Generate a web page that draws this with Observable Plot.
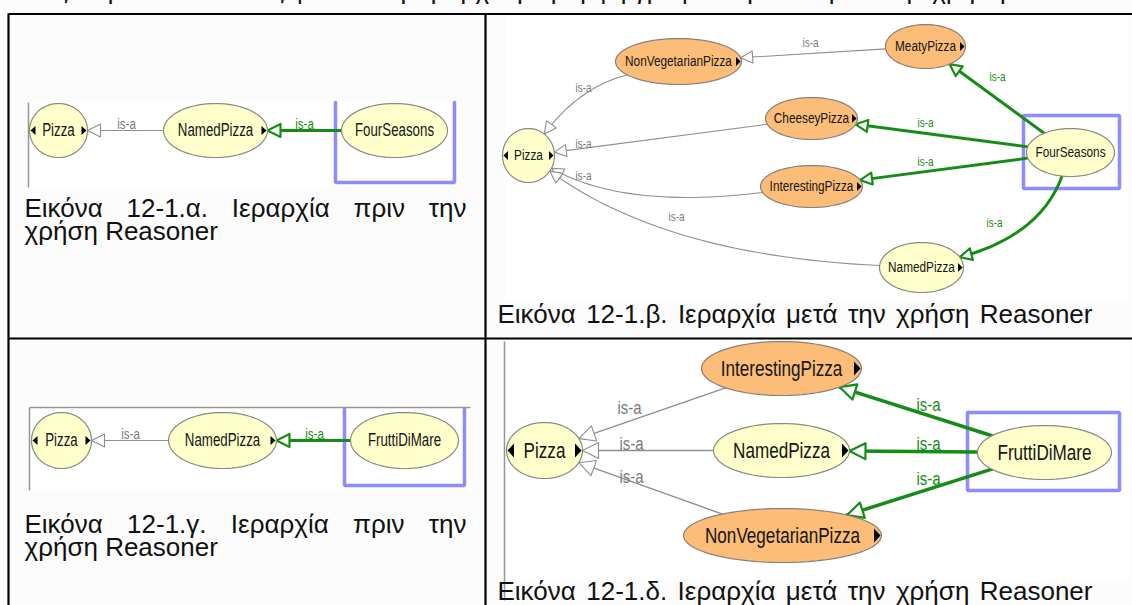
<!DOCTYPE html>
<html><head><meta charset="utf-8">
<script src="https://cdn.jsdelivr.net/npm/d3@7"></script>
<script src="https://cdn.jsdelivr.net/npm/@observablehq/plot@0.6"></script>
<style>
html,body{margin:0;padding:0;background:#fcfcfc;}
#chart svg{display:block;}
</style></head><body><div id="chart"></div>
<script>
const W = 1132, H = 605;

// ---- data ----
// nodes: name, cx, cy, rx, ry, inferred(1 = orange), expand arrows
const nodesA = [["Pizza",58,130,29,27,0,"both"],["NamedPizza",215,130,52,27,0,"right"],["FourSeasons",394,130,53,27,0,"none"]];
const nodesB = [["Pizza",528,155,26,27,0,"both"],["NonVegetarianPizza",678,61,63,23,1,"right"],["MeatyPizza",925,46,40,22,1,"right"],["CheeseyPizza",811,118,46,21,1,"right"],["InterestingPizza",811,186,51,21,1,"right"],["NamedPizza",921,267,42,25,0,"right"],["FourSeasons",1070,152,44,24,0,"none"]];
const nodesC = [["Pizza",61,440,30,28,0,"both"],["NamedPizza",222,440,54,28,0,"right"],["FruttiDiMare",404,440,54,28,0,"none"]];
const nodesD = [["Pizza",544,450,38,28,0,"both"],["InterestingPizza",781,368,80,27,1,"right"],["NamedPizza",781,450,68,27,0,"right"],["NonVegetarianPizza",782,535,99,27,1,"right"],["FruttiDiMare",1044,452,67,27,0,"none"]];
// edges: from, to, green(1 = inferred/selected), label x, label y, [curve control x, y]
const edgesA = [["NamedPizza","Pizza",0,126,124],["FourSeasons","NamedPizza",1,304,124]];
const edgesB = [["MeatyPizza","NonVegetarianPizza",0,810,43],["NonVegetarianPizza","Pizza",0,583,88,578,87],["CheeseyPizza","Pizza",0,583,144],["InterestingPizza","Pizza",0,583,176,624,209],["NamedPizza","Pizza",0,676,217,664,255],["FourSeasons","MeatyPizza",1,997,77],["FourSeasons","CheeseyPizza",1,925,123],["FourSeasons","InterestingPizza",1,925,162],["FourSeasons","NamedPizza",1,994,223,1040,235]];
const edgesC = [["NamedPizza","Pizza",0,130,434],["FruttiDiMare","NamedPizza",1,314,434]];
const edgesD = [["InterestingPizza","Pizza",0,629,408],["NamedPizza","Pizza",0,631,444],["NonVegetarianPizza","Pizza",0,631,477],["FruttiDiMare","InterestingPizza",1,928,405],["FruttiDiMare","NamedPizza",1,928,444],["FruttiDiMare","NonVegetarianPizza",1,928,479]];
// selection boxes: x1, y1, x2, y2, open top?
const boxes = [[335,102,454,182,1],[1023,115,1119,188,0],[344,408,464,485,1],[967,412,1119,490,0]];
// diagram image areas and their thin frame lines
const imageAreas = [[28,102,460,187],[506,15,1128,300],[29,407,470,490],[505,340,1130,580]];
const frameLines = [[28,102,28,187],[29,407,470,407],[29,407,29,490],[504,341,504,600]];
// table rules
const tableRules = [[8,13.5,1132,13.5],[8,13,8,605],[485,13,485,605],[8,338,1132,338]];
// captions: text, x, y, justify-to x
const captions = [
  ["Εικόνα 12-1.α. Ιεραρχία πριν την",24,208,466],
  ["χρήση Reasoner",24,231,null],
  ["Εικόνα 12-1.β. Ιεραρχία μετά την χρήση Reasoner",497,314,1092],
  ["Εικόνα 12-1.γ. Ιεραρχία πριν την",24,524,466],
  ["χρήση Reasoner",24,547,null],
  ["Εικόνα 12-1.δ. Ιεραρχία μετά την χρήση Reasoner",497,591,1092]
];
const topLine = ["Στις παρακάτω εικόνες φαίνεται η ιεραρχία με μορφή γράφου πριν και μετά την χρήση του Reasoner", 24, -10];

// ---- styles ----
const GREEN = "#168c16", GREY = "#8e8e8e", BLUE = "#8c8cff";
const TOLD = "#ffffcc", INFER = "#fbbd78";
const panels = [
  {id:"a", nodes:nodesA, edges:edgesA, nodeSize:17.5, labelSize:14, tri:[5,4.5], head:[13,6.5], gw:1.2, ew:3},
  {id:"b", nodes:nodesB, edges:edgesB, nodeSize:15.5, labelSize:12, tri:[4.5,4.5], head:[12,6], gw:1.1, ew:3},
  {id:"c", nodes:nodesC, edges:edgesC, nodeSize:17.5, labelSize:14, tri:[5,4.5], head:[13,6.5], gw:1.2, ew:3},
  {id:"d", nodes:nodesD, edges:edgesD, nodeSize:22.5, labelSize:18, tri:[6.5,7], head:[16,8], gw:1.4, ew:3.5}
];

// ---- geometry derived from the data ----
const ellPts = [], triPts = [], nodeLabels = [], edgeLines = [], heads = [], edgeLabels = [];
function boundary(n, tx, ty) {
  const dx = tx - n.x, dy = ty - n.y;
  const t = 1 / Math.sqrt((dx / n.rx) ** 2 + (dy / n.ry) ** 2);
  return [n.x + dx * t, n.y + dy * t];
}
for (const p of panels) {
  const m = new Map(p.nodes.map(d => [d[0], {name:d[0], x:d[1], y:d[2], rx:d[3], ry:d[4], inf:d[5], tri:d[6]}]));
  for (const n of m.values()) {
    const id = p.id + n.name;
    for (let i = 0; i < 72; i++) {
      const a = 2 * Math.PI * i / 72;
      ellPts.push({id, inf:n.inf, x:n.x + n.rx * Math.cos(a), y:n.y + n.ry * Math.sin(a)});
    }
    nodeLabels.push({x:n.x, y:n.y, text:n.name, size:p.nodeSize});
    const [tw, th] = p.tri;
    const addTri = (dir, k) => {
      const tip = dir > 0 ? n.x + n.rx - 1 : n.x - n.rx + 1;
      const base = tip - dir * tw;
      triPts.push({id:id+k, x:tip, y:n.y}, {id:id+k, x:base, y:n.y - th}, {id:id+k, x:base, y:n.y + th});
    };
    if (n.tri === "right" || n.tri === "both") addTri(1, "R");
    if (n.tri === "both") addTri(-1, "L");
  }
  p.edges.forEach((e, j) => {
    const [s, t, green, lx, ly, cx, cy] = e;
    const S = m.get(s), T = m.get(t);
    const C = cx != null ? [cx, cy] : null;
    const p0 = boundary(S, ...(C || [T.x, T.y]));
    const p2 = boundary(T, ...(C || [S.x, S.y]));
    const id = p.id + "e" + j;
    const w = green ? p.ew : p.gw;
    if (C) {
      for (let i = 0; i <= 30; i++) {
        const u = i / 30, v = 1 - u;
        edgeLines.push({id, green, w, x:v*v*p0[0] + 2*u*v*C[0] + u*u*p2[0], y:v*v*p0[1] + 2*u*v*C[1] + u*u*p2[1]});
      }
    } else {
      edgeLines.push({id, green, w, x:p0[0], y:p0[1]}, {id, green, w, x:p2[0], y:p2[1]});
    }
    const from = C || p0;
    let dx = p2[0] - from[0], dy = p2[1] - from[1];
    const L = Math.hypot(dx, dy); dx /= L; dy /= L;
    const [hl, hw] = p.head;
    const bx = p2[0] - dx * hl, by = p2[1] - dy * hl;
    heads.push({id, green, x:p2[0], y:p2[1]}, {id, green, x:bx - dy * hw, y:by + dx * hw}, {id, green, x:bx + dy * hw, y:by - dx * hw});
    edgeLabels.push({x:lx, y:ly, green, size:p.labelSize});
  });
}
const boxPts = [];
boxes.forEach((b, i) => {
  const [x1, y1, x2, y2, open] = b;
  const pts = open ? [[x1,y1],[x1,y2],[x2,y2],[x2,y1]] : [[x1,y1],[x1,y2],[x2,y2],[x2,y1],[x1,y1]];
  pts.forEach(([x, y]) => boxPts.push({id:i, x, y}));
});

const FONT = "'Liberation Sans', Arial, Helvetica, sans-serif";
const chart = Plot.plot({
  width: W, height: H,
  margin: 0,
  x: {domain:[0, W], range:[0, W], axis:null},
  y: {domain:[0, H], range:[0, H], axis:null},
  style: {background:"#fcfcfc", overflow:"hidden"},
  marks: [
    Plot.rect(imageAreas, {x1:d=>d[0], y1:d=>d[1], x2:d=>d[2], y2:d=>d[3], fill:"#ffffff"}),
    Plot.link(frameLines, {x1:d=>d[0], y1:d=>d[1], x2:d=>d[2], y2:d=>d[3], stroke:"#9a978e", strokeWidth:1.5}),
    Plot.link(tableRules, {x1:d=>d[0], y1:d=>d[1], x2:d=>d[2], y2:d=>d[3], stroke:"#000", strokeWidth:2.2}),
    Plot.line(boxPts, {x:"x", y:"y", z:"id", stroke:BLUE, strokeWidth:3.5, strokeLinejoin:"miter"}),
    Plot.line(edgeLines.filter(d=>!d.green), {x:"x", y:"y", z:"id", stroke:GREY, strokeWidth:d=>d.w}),
    Plot.line(edgeLines.filter(d=>d.green), {x:"x", y:"y", z:"id", stroke:GREEN, strokeWidth:d=>d.w}),
    Plot.line(heads.filter(d=>!d.green), {x:"x", y:"y", z:"id", curve:"linear-closed", fill:"#fff", stroke:GREY, strokeWidth:1.1}),
    Plot.line(heads.filter(d=>d.green), {x:"x", y:"y", z:"id", curve:"linear-closed", fill:"#fff", stroke:GREEN, strokeWidth:2.2}),
    Plot.line(ellPts.filter(d=>!d.inf), {x:"x", y:"y", z:"id", curve:"linear-closed", fill:TOLD, stroke:"#8a8a80", strokeWidth:1.2}),
    Plot.line(ellPts.filter(d=>d.inf), {x:"x", y:"y", z:"id", curve:"linear-closed", fill:INFER, stroke:"#8a8078", strokeWidth:1.2}),
    Plot.line(triPts, {x:"x", y:"y", z:"id", curve:"linear-closed", fill:"#000", stroke:"none"}),
    Plot.text(nodeLabels, {x:"x", y:"y", text:"text", fontSize:"size", fontFamily:FONT, fill:"#151515", ariaLabel:()=>"node-label"}),
    Plot.text(edgeLabels, {x:"x", y:"y", text:()=> "is-a", fontSize:"size", fontFamily:FONT, fill:d=>d.green ? GREEN : "#7a7a7a", ariaLabel:()=>"edge-label"}),
    Plot.text(captions, {x:d=>d[1], y:d=>d[2], text:d=>d[0], textAnchor:"start", fontSize:26, fontFamily:FONT, fill:"#111", ariaLabel:(d,i)=>"caption-"+i}),
    Plot.text([topLine], {x:d=>d[1], y:d=>d[2], text:d=>d[0], textAnchor:"start", fontSize:26, fontFamily:FONT, fill:"#111"})
  ]
});
document.getElementById("chart").append(chart);

// condensed look of the OWLViz labels
const squeeze = (sel, k) => chart.querySelectorAll(sel).forEach(t => {
  const L = t.getComputedTextLength();
  t.setAttribute("textLength", (L * k).toFixed(1));
  t.setAttribute("lengthAdjust", "spacingAndGlyphs");
});
squeeze('text[aria-label="node-label"]', 0.76);
squeeze('text[aria-label="edge-label"]', 0.83);
// justified caption lines
captions.forEach((c, i) => {
  if (c[3] == null) return;
  const t = chart.querySelector(`text[aria-label="caption-${i}"]`);
  if (!t) return;
  const L = t.getComputedTextLength();
  const spaces = (c[0].match(/ /g) || []).length;
  t.style.wordSpacing = ((c[3] - c[1] - L) / spaces).toFixed(2) + "px";
});
</script></body></html>
